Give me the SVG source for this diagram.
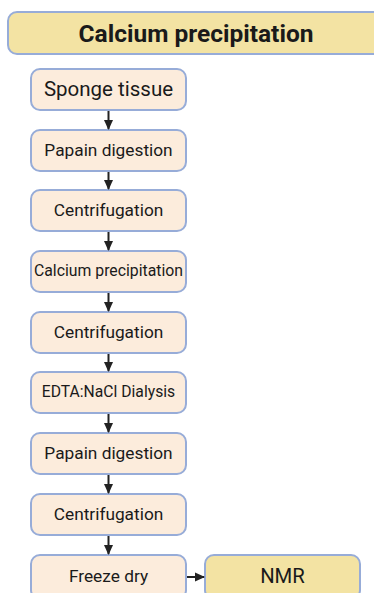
<svg xmlns="http://www.w3.org/2000/svg" width="374" height="593" viewBox="0 0 374 593">
<defs>
<marker id="ah" markerWidth="10" markerHeight="10" refX="9" refY="5" orient="auto" markerUnits="userSpaceOnUse">
<path d="M0,0.5 L10,5 L0,9.5 Z" fill="#222"/>
</marker>
<style>
.n rect{fill:#fcecdc;stroke:#97acd8;stroke-width:2}
.y rect{fill:#f3e3a3;stroke:#97acd8;stroke-width:2}
text{font-family:Roboto,"Liberation Sans",sans-serif;fill:#1a1a1a;text-anchor:middle}
.c line{stroke:#222;stroke-width:2;marker-end:url(#ah)}
</style>
</defs>
<rect width="374" height="593" fill="#fff"/>
<g id="title" class="y"><rect x="8" y="12" width="380" height="42" rx="9"/><text x="196" y="41.5" font-size="24.5" font-weight="bold">Calcium precipitation</text></g>
<g id="n1" class="n"><rect x="31" y="69" width="155" height="41" rx="9"/><text x="108.5" y="96" font-size="20.5">Sponge tissue</text></g>
<g id="n2" class="n"><rect x="31" y="130" width="155" height="41" rx="9"/><text x="108.5" y="155.5" font-size="17.3">Papain digestion</text></g>
<g id="n3" class="n"><rect x="31" y="190" width="155" height="41" rx="9"/><text x="108.5" y="215.5" font-size="17.3">Centrifugation</text></g>
<g id="n4" class="n"><rect x="31" y="251" width="155" height="41" rx="9"/><text x="108.5" y="276" font-size="15.8">Calcium precipitation</text></g>
<g id="n5" class="n"><rect x="31" y="312" width="155" height="41" rx="9"/><text x="108.5" y="337.5" font-size="17.3">Centrifugation</text></g>
<g id="n6" class="n"><rect x="31" y="372" width="155" height="41" rx="9"/><text x="108.5" y="397" font-size="15.7">EDTA:NaCl Dialysis</text></g>
<g id="n7" class="n"><rect x="31" y="433" width="155" height="41" rx="9"/><text x="108.5" y="458.5" font-size="17.3">Papain digestion</text></g>
<g id="n8" class="n"><rect x="31" y="494" width="155" height="41" rx="9"/><text x="108.5" y="519.5" font-size="17.3">Centrifugation</text></g>
<g id="n9" class="n"><rect x="31" y="555" width="155" height="44" rx="9"/><text x="108.5" y="582" font-size="17.3">Freeze dry</text></g>
<g id="nmr" class="y"><rect x="205" y="555" width="155" height="44" rx="9"/><text x="282.5" y="583" font-size="20.3">NMR</text></g>
<g id="connectors" class="c">
<line x1="108.5" y1="111" x2="108.5" y2="129"/>
<line x1="108.5" y1="172" x2="108.5" y2="189"/>
<line x1="108.5" y1="232" x2="108.5" y2="250"/>
<line x1="108.5" y1="293" x2="108.5" y2="311"/>
<line x1="108.5" y1="354" x2="108.5" y2="371"/>
<line x1="108.5" y1="414" x2="108.5" y2="432"/>
<line x1="108.5" y1="475" x2="108.5" y2="493"/>
<line x1="108.5" y1="536" x2="108.5" y2="554"/>
<line x1="187" y1="577" x2="204" y2="577"/>
</g>
</svg>
